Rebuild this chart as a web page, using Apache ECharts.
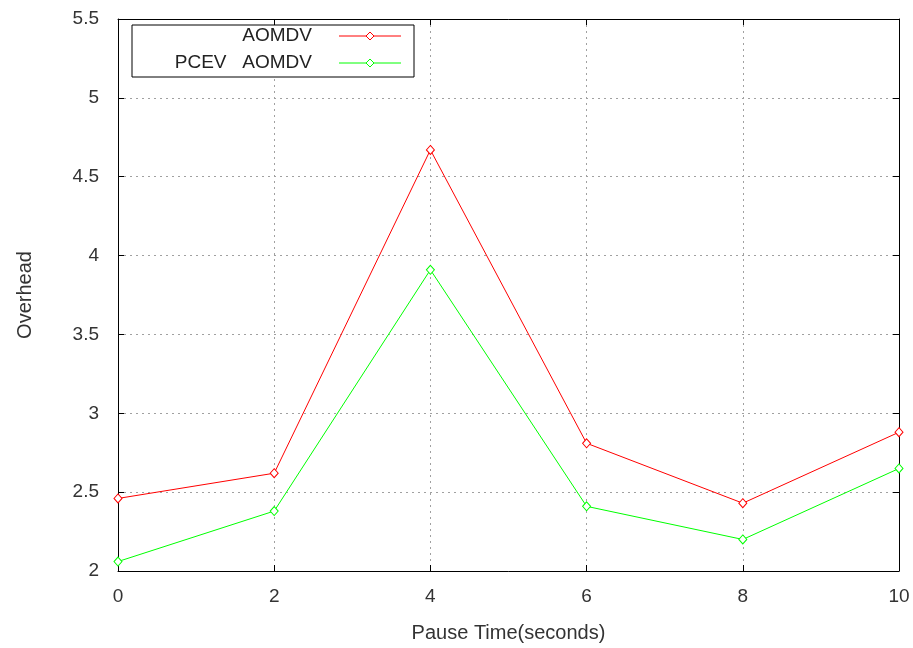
<!DOCTYPE html>
<html><head><meta charset="utf-8">
<script src="https://cdn.jsdelivr.net/npm/echarts@6/dist/echarts.min.js"></script>
<style>html,body{margin:0;padding:0;background:#fff}#c{width:913px;height:648px}</style>
</head><body><div id="c"></div>
<script>
var pauseTimes = [0, 2, 4, 6, 8, 10];
var aomdv = [2.46, 2.62, 4.67, 2.81, 2.43, 2.88];
var pcevAomdv = [2.06, 2.38, 3.91, 2.41, 2.20, 2.65];
var seriesNames = ['AOMDV', 'PCEV   AOMDV'];
var colors = ['#ff0000', '#00ff00'];

var chart = echarts.init(document.getElementById('c'), null, {renderer: 'canvas'});
var font = 'Liberation Sans, Arial, sans-serif';
function pairs(xs, ys){ return xs.map(function(x,i){return [x, ys[i]];}); }
var gridLine = {show: true, lineStyle: {color: '#a0a0a0', type: [2, 4], width: 1}};
var tickStyle = {show: true, inside: true, length: 6, lineStyle: {color: '#000'}};
var lineStyleAxis = {show: true, onZero: false, lineStyle: {color: '#000', width: 1}};

function legendGraphic(){
  var g = [];
  g.push({type:'rect', shape:{x:132, y:25, width:282, height:52}, style:{fill:'#fff', stroke:'#000', lineWidth:1}, z:100});
  var rows = [36, 63];
  for (var i=0;i<2;i++){
    g.push({type:'text', x:312, y:rows[i], style:{text:seriesNames[i], textAlign:'right', textVerticalAlign:'middle', font:'19px Liberation Sans, Arial, sans-serif', fill:'#222'}, z:101});
    g.push({type:'line', shape:{x1:339, y1:rows[i], x2:401, y2:rows[i]}, style:{stroke:colors[i], lineWidth:1}, z:101});
    g.push({type:'polygon', shape:{points:[[370,rows[i]-4],[374,rows[i]],[370,rows[i]+4],[366,rows[i]]]}, style:{fill:'#fff', stroke:colors[i], lineWidth:1}, z:102});
  }
  return g;
}

chart.setOption({
  animation: false,
  backgroundColor: '#fff',
  grid: {left: 118, right: 14, top: 19, bottom: 77},
  xAxis: [
    {type:'value', min:0, max:10, interval:2, position:'bottom',
      name:'Pause Time(seconds)', nameLocation:'middle', nameGap:52,
      nameTextStyle:{color:'#333', fontFamily:font, fontSize:20},
      axisLine: lineStyleAxis, axisTick: tickStyle,
      axisLabel:{color:'#333', fontFamily:font, fontSize:19, margin:16},
      splitLine: gridLine},
    {type:'value', min:0, max:10, interval:2, position:'top',
      axisLine: lineStyleAxis, axisTick: tickStyle,
      axisLabel:{show:false}, splitLine:{show:false}}
  ],
  yAxis: [
    {type:'value', min:2, max:5.5, interval:0.5, position:'left',
      name:'Overhead', nameLocation:'middle', nameGap:83, nameRotate:90,
      nameTextStyle:{color:'#333', fontFamily:font, fontSize:20},
      axisLine: lineStyleAxis, axisTick: tickStyle,
      axisLabel:{color:'#333', fontFamily:font, fontSize:19, margin:19},
      splitLine: gridLine},
    {type:'value', min:2, max:5.5, interval:0.5, position:'right',
      axisLine: lineStyleAxis, axisTick: tickStyle,
      axisLabel:{show:false}, splitLine:{show:false}}
  ],
  series: [
    {name: seriesNames[0], type:'line', data: pairs(pauseTimes, aomdv), symbol:'diamond', symbolSize:[8,9], showAllSymbol:true,
     itemStyle:{color:'#fff', borderColor:colors[0], borderWidth:1}, lineStyle:{color:colors[0], width:1}, z:5},
    {name: seriesNames[1], type:'line', data: pairs(pauseTimes, pcevAomdv), symbol:'diamond', symbolSize:[8,9], showAllSymbol:true,
     itemStyle:{color:'#fff', borderColor:colors[1], borderWidth:1}, lineStyle:{color:colors[1], width:1}, z:5}
  ],
  graphic: legendGraphic()
});
</script></body></html>
